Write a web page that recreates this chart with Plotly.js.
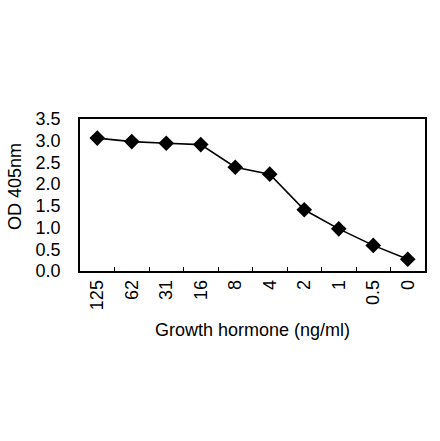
<!DOCTYPE html>
<html>
<head>
<meta charset="utf-8">
<script src="https://cdn.plot.ly/plotly-3.0.1.min.js"></script>
<style>
  html, body { margin: 0; padding: 0; background: #fff; }
  #chart { width: 440px; height: 441px; }
</style>
</head>
<body>
<div id="chart"></div>
<script>
// 성장호르몬 농도별 OD 405nm
const doses = ['125', '62', '31', '16', '8', '4', '2', '1', '0.5', '0'];
const od405 = [3.06, 2.98, 2.94, 2.91, 2.39, 2.23, 1.41, 0.97, 0.59, 0.27];
const yTicks = [0, 0.5, 1.0, 1.5, 2.0, 2.5, 3.0, 3.5];
const xTitle = 'Growth hormone (ng/ml)';
const yTitle = 'OD 405nm';

const FONT = '"Liberation Sans", Arial, sans-serif';

const traces = [{
  x: doses, y: od405, type: 'scatter', mode: 'lines+markers',
  line: { color: '#000', width: 1.6 },
  marker: { symbol: 'diamond', size: 12, color: '#000' },
  hoverinfo: 'x+y',
}];

// y축 제목은 회전 텍스트가 겹쳐 그려지는 문제 때문에 annotation으로 대체
const layout = {
  width: 440, height: 441,
  paper_bgcolor: '#fff', plot_bgcolor: '#fff',
  font: { family: FONT, color: '#000', size: 18 },
  margin: { l: 80, r: 15, t: 119, b: 170, autoexpand: false },
  showlegend: false,
  xaxis: {
    type: 'category', range: [-0.5, 9.5], automargin: false,
    tickson: 'boundaries', ticks: 'inside', ticklen: 4, tickwidth: 1.2, tickcolor: '#000',
    tickangle: -90, tickfont: { size: 18 },
    showline: true, linecolor: '#000', linewidth: 1.8, mirror: true,
    showgrid: false, zeroline: false,
    title: { text: xTitle, font: { size: 18 } },
  },
  yaxis: {
    range: [0, 3.5], tickvals: yTicks, tickformat: '.1f', ticks: '', automargin: false,
    tickfont: { size: 18 }, ticklabelstandoff: 14,
    showline: true, linecolor: '#000', linewidth: 1.8, mirror: true,
    showgrid: false, zeroline: false,
  },
  annotations: [{
    text: yTitle, xref: 'paper', yref: 'paper', x: -0.188, y: 0.553,
    xanchor: 'center', yanchor: 'middle', textangle: -90, showarrow: false,
    font: { size: 18 },
  }],
};

Plotly.newPlot('chart', traces, layout, { displayModeBar: false });
</script>
</body>
</html>
